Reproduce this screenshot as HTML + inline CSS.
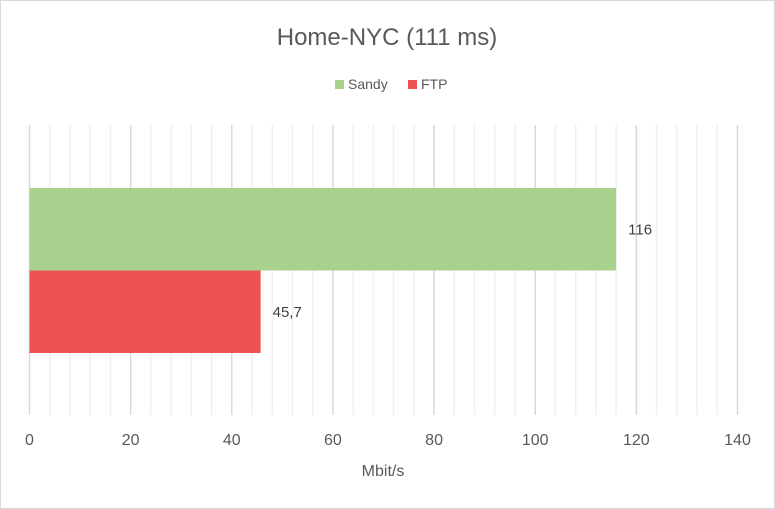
<!DOCTYPE html>
<html><head><meta charset="utf-8"><style>
html,body{margin:0;padding:0;background:#fff}
svg{display:block;font-family:"Liberation Sans",sans-serif}
</style></head><body>
<svg id="c" width="775" height="509" viewBox="0 0 775 509">
<rect x="0.5" y="0.5" width="774" height="508" fill="#fff" stroke="#d9d9d9"/>
<text x="387" y="45" text-anchor="middle" font-size="24" fill="#595959">Home-NYC (111 ms)</text>
<g>
<rect x="335" y="80" width="9" height="9" fill="#a9d18e"/>
<text x="348" y="89" font-size="14" fill="#595959">Sandy</text>
<rect x="408" y="80" width="9" height="9" fill="#ee5253"/>
<text x="421" y="89" font-size="14" fill="#595959">FTP</text>
</g>
<g id="grid"></g><g id="bars"></g><g id="labels"></g>
<text x="383" y="476" text-anchor="middle" font-size="16" fill="#595959">Mbit/s</text>
</svg>
<script>
const categories=["Sandy","FTP"];
const values=[116,45.7];
const valueLabels=["116","45,7"];
const colors=["#a9d18e","#ee5253"];
const ticks=[0,20,40,60,80,100,120,140];
const minorStep=4;
const ns="http://www.w3.org/2000/svg";
const x0=29.5,x1=737.5,yTop=125,yBottom=415,xmax=140;
const x=v=>x0+(v/xmax)*(x1-x0);
function mk(t,a,p){const e=document.createElementNS(ns,t);for(const k in a)e.setAttribute(k,a[k]);p.appendChild(e);return e;}
const g=document.getElementById('grid');
for(let v=minorStep;v<xmax;v+=minorStep){if(v%20===0)continue;
const l=mk('line',{x1:x(v),x2:x(v),y1:yTop,y2:yBottom,stroke:'#f0f0f0','stroke-width':1.5},g);

}
ticks.forEach(v=>{
const l=mk('line',{x1:x(v),x2:x(v),y1:yTop,y2:yBottom,stroke:'#d9d9d9','stroke-width':1.5},g);


const t=mk('text',{x:x(v),y:445,'text-anchor':'middle','font-size':16,fill:'#595959'},g);
t.textContent=v;

});
const b=document.getElementById('bars'),lb=document.getElementById('labels');
const bandTop=188,bh=82.5;
values.forEach((v,i)=>{
const y=bandTop+i*bh;
const r=mk('rect',{x:x0,y:y,width:x(v)-x0,height:bh,fill:colors[i]},b);


const t=mk('text',{x:x(v)+12,y:y+bh/2+5,'font-size':15,fill:'#404040'},lb);
t.textContent=valueLabels[i];

});
</script>
</body></html>
